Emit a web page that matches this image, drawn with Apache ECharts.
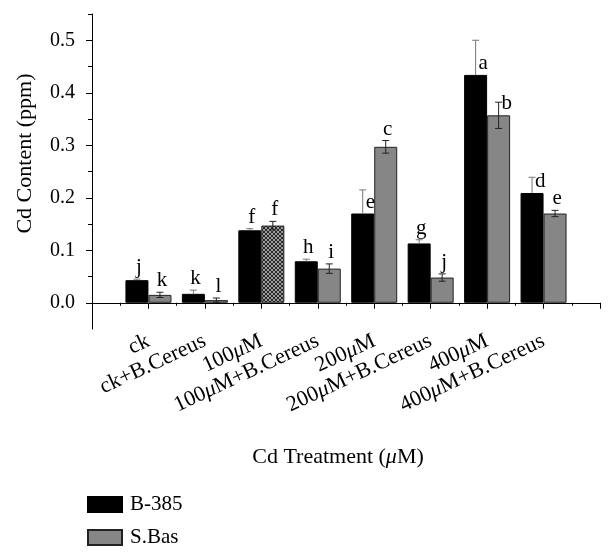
<!DOCTYPE html>
<html>
<head>
<meta charset="utf-8">
<script src="https://cdn.jsdelivr.net/npm/echarts@6/dist/echarts.min.js"></script>
<style>
html,body{margin:0;padding:0;background:#fff;}
#chart{width:614px;height:555px;}
</style>
</head>
<body>
<div id="chart"></div>
<script>
// ---- data ----
const categories = ['ck', 'ck+B.Cereus', '100μM', '100μM+B.Cereus', '200μM', '200μM+B.Cereus', '400μM', '400μM+B.Cereus'];
const seriesNames = ['B-385', 'S.Bas'];
const b385 = [0.043, 0.017, 0.138, 0.079, 0.170, 0.113, 0.434, 0.209];
const b385Err = [0.002, 0.007, 0.003, 0.004, 0.045, 0.007, 0.066, 0.030];
const sbas = [0.015, 0.005, 0.147, 0.065, 0.297, 0.048, 0.357, 0.170];
const sbasErr = [0.005, 0.004, 0.008, 0.009, 0.012, 0.007, 0.025, 0.006];
const b385Letters = ['j', 'k', 'f', 'h', 'e', 'g', 'a', 'd'];
const sbasLetters = ['k', 'l', 'f', 'i', 'c', 'j', 'b', 'e'];
const yTickLabels = [0, 0.1, 0.2, 0.3, 0.4, 0.5];
const yMinorTicks = [0.05, 0.15, 0.25, 0.35, 0.45, 0.55];
const hatchedIndex = 2; // S.Bas bar at 100μM drawn hatched

// ---- build ----
const FONT = 'Liberation Serif';
const BAR_W = 23;
const axisCats = [''].concat(categories).concat([' ']);

function hatchCanvas() {
  const c = document.createElement('canvas');
  c.width = 4; c.height = 4;
  const g = c.getContext('2d');
  g.fillStyle = '#9a9a9a';
  g.fillRect(0, 0, 4, 4);
  g.fillStyle = '#2a2a2a';
  for (let i = 0; i < 4; i++) { g.fillRect(i, i, 1, 1); g.fillRect(3 - i, i, 1, 1); }
  return c;
}
const hatch = { image: hatchCanvas(), repeat: 'repeat' };

function pad(arr) { return [null].concat(arr).concat([null]); }

const sbasData = pad(sbas.map((v, i) => i === hatchedIndex
  ? { value: v, itemStyle: { color: hatch, borderColor: '#222' } }
  : v));

const errData = [];
b385.forEach((v, i) => errData.push([i + 1, v, b385Err[i], 0, b385Letters[i]]));
sbas.forEach((v, i) => errData.push([i + 1, v, sbasErr[i], 1, sbasLetters[i]]));

function renderErr(params, api) {
  const ci = api.value(0), v = api.value(1), e = api.value(2), side = api.value(3);
  const letter = errData[params.dataIndex][4];
  const base = api.coord([ci, v]);
  const x = base[0] + (side ? BAR_W / 2 : -BAR_W / 2);
  const yTop = api.coord([ci, v + e])[1];
  const yBot = api.coord([ci, v - e])[1];
  const yBar = base[1];
  const col = side ? '#222' : '#777';
  const cap = 3.5;
  const children = [];
  const y2 = side ? yBot : yBar;
  children.push({ type: 'line', shape: { x1: x, y1: yTop, x2: x, y2: y2 }, style: { stroke: col, lineWidth: 1 } });
  children.push({ type: 'line', shape: { x1: x - cap, y1: yTop, x2: x + cap, y2: yTop }, style: { stroke: col, lineWidth: 1 } });
  if (side) children.push({ type: 'line', shape: { x1: x - cap, y1: yBot, x2: x + cap, y2: yBot }, style: { stroke: col, lineWidth: 1 } });
  const font = '21px "' + FONT + '"';
  if (e > 0.02) {
    children.push({ type: 'text', style: { text: letter, x: x + 3, y: yBar - 1, align: 'left', verticalAlign: 'bottom', font: font, fill: '#000' } });
  } else {
    children.push({ type: 'text', style: { text: letter, x: x + 2, y: yTop - 1, align: 'center', verticalAlign: 'bottom', font: font, fill: '#000' } });
  }
  return { type: 'group', children: children };
}

function italicRich(size) { return { i: { fontStyle: 'italic', fontFamily: FONT, fontSize: size, color: '#000' } }; }
function muItalic(s) { return s.replace('μ', '{i|μ}'); }

const chart = echarts.init(document.getElementById('chart'), null, { renderer: 'canvas' });
chart.setOption({
  backgroundColor: '#fff',
  animation: false,
  textStyle: { fontFamily: FONT, color: '#000' },
  grid: { left: 92, right: 14, top: 14, bottom: 226, containLabel: false },
  legend: {
    orient: 'vertical', left: 87, top: 494, padding: 0,
    itemWidth: 34, itemHeight: 15, itemGap: 12,
    icon: 'rect',
    textStyle: { fontFamily: FONT, fontSize: 21, color: '#000', padding: [0, 0, 0, 3] },
    data: seriesNames
  },
  xAxis: [{
    type: 'category', data: axisCats, boundaryGap: false, position: 'bottom',
    axisLine: { show: true, lineStyle: { color: '#000', width: 1 } },
    axisTick: { show: true, length: 6, interval: 0, lineStyle: { color: '#000' } },
    axisLabel: {
      interval: 0, rotate: 25, margin: 11, fontFamily: FONT, fontSize: 22, color: '#000',
      formatter: muItalic, rich: italicRich(22)
    },
    name: 'Cd Treatment ({i|μ}M)', nameLocation: 'middle', nameGap: 117,
    nameTextStyle: { fontFamily: FONT, fontSize: 22, color: '#000', padding: [0, 16, 0, 0], rich: italicRich(22) },
    splitLine: { show: false }
  }, {
    type: 'value', min: 0, max: 9, position: 'bottom',
    axisLine: { show: false },
    axisTick: { show: true, length: 3, customValues: [0.5, 1.5, 2.5, 3.5, 4.5, 5.5, 6.5, 7.5, 8.5], lineStyle: { color: '#000' } },
    axisLabel: { show: false }, splitLine: { show: false }
  }],
  yAxis: [{
    type: 'value', min: -0.05, max: 0.55, position: 'left',
    axisLine: { show: true, lineStyle: { color: '#000', width: 1 } },
    axisTick: { show: true, length: 6, customValues: yTickLabels, lineStyle: { color: '#000' } },
    axisLabel: { customValues: yTickLabels, formatter: v => v.toFixed(1), margin: 17, fontFamily: FONT, fontSize: 20, color: '#000' },
    splitLine: { show: false },
    name: 'Cd Content (ppm)', nameLocation: 'middle', nameGap: 56,
    nameTextStyle: { fontFamily: FONT, fontSize: 22, color: '#000', padding: [0, 0, 0, 36] }
  }, {
    type: 'value', min: -0.05, max: 0.55, position: 'left',
    axisLine: { show: false },
    axisTick: { show: true, length: 4, customValues: yMinorTicks, lineStyle: { color: '#000' } },
    axisLabel: { show: false }, splitLine: { show: false }
  }],
  series: [{
    name: seriesNames[0], type: 'bar', xAxisIndex: 0, yAxisIndex: 0,
    data: pad(b385), barWidth: BAR_W, barGap: '0%',
    itemStyle: { color: '#000', borderColor: '#000', borderWidth: 1 }
  }, {
    name: seriesNames[1], type: 'bar', xAxisIndex: 0, yAxisIndex: 0,
    data: sbasData, barWidth: BAR_W, barGap: '0%',
    itemStyle: { color: '#868686', borderColor: '#222', borderWidth: 1 }
  }, {
    type: 'custom', xAxisIndex: 0, yAxisIndex: 0, z: 5,
    data: errData.map(d => d.slice(0, 4)),
    renderItem: renderErr, silent: true
  }]
});
</script>
</body>
</html>
